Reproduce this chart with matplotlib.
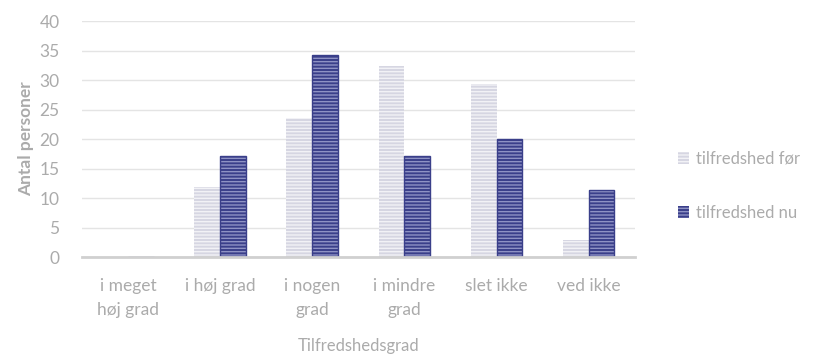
import numpy as np
import matplotlib
matplotlib.use("Agg")
import matplotlib.pyplot as plt

categories = ["i meget\nhøj grad", "i høj grad", "i nogen\ngrad", "i mindre\ngrad", "slet ikke", "ved ikke"]
foer = [0, 11.8, 23.5, 32.4, 29.4, 2.9]
nu = [0, 17.1, 34.3, 17.1, 20.0, 11.3]
series_names = ["tilfredshed før", "tilfredshed nu"]

plt.rcParams["font.family"] = ["Lato", "DejaVu Sans"]
plt.rcParams["hatch.linewidth"] = 1.0

grey = "#ababab"
fig = plt.figure(figsize=(8.18, 3.54), dpi=100)
ax = fig.add_axes([0.100, 0.274, 0.676, 0.666])

x = np.arange(len(categories))
w = 0.28
ax.bar(x - w / 2, foer, w, color="#d6d6e2", edgecolor="#f2f2f6", hatch="-----", lw=0, zorder=3, label=series_names[0])
ax.bar(x + w / 2, nu, w, color="#3a3f8a", edgecolor="#8e92c4", hatch="-----", lw=0, zorder=3, label=series_names[1])
# dark outline on the "nu" bars
ax.bar(x + w / 2, nu, w, fill=False, edgecolor="#3a3f8a", lw=1.0, zorder=4)

ax.set_xlim(-0.5, len(categories) - 0.5)
ax.set_ylim(0, 40)
ax.set_yticks(range(0, 41, 5))
ax.yaxis.grid(True, color="#e4e4e4", lw=1, zorder=0)
for s in ["top", "right", "left"]:
    ax.spines[s].set_visible(False)
ax.spines["bottom"].set_color("#d0d0d0")
ax.spines["bottom"].set_linewidth(2)
ax.spines["bottom"].set_zorder(5)
ax.tick_params(axis="both", length=0, colors=grey, labelsize=12.5)
ax.tick_params(axis="x", pad=15)
ax.tick_params(axis="y", pad=16)
ax.set_xticks(x)
ax.set_xticklabels(categories, linespacing=1.6)

ax.set_ylabel("Antal personer", color=grey, fontsize=12.5, fontweight="bold", labelpad=4)
ax.set_xlabel("Tilfredshedsgrad", color=grey, fontsize=12, labelpad=15)

fig.legend(loc="center left", bbox_to_anchor=(0.81, 0.475), frameon=False,
           fontsize=12, labelcolor=grey, handlelength=0.7, handleheight=0.7,
           handletextpad=0.4, labelspacing=2.3)

fig.savefig("out.png", dpi=100)
